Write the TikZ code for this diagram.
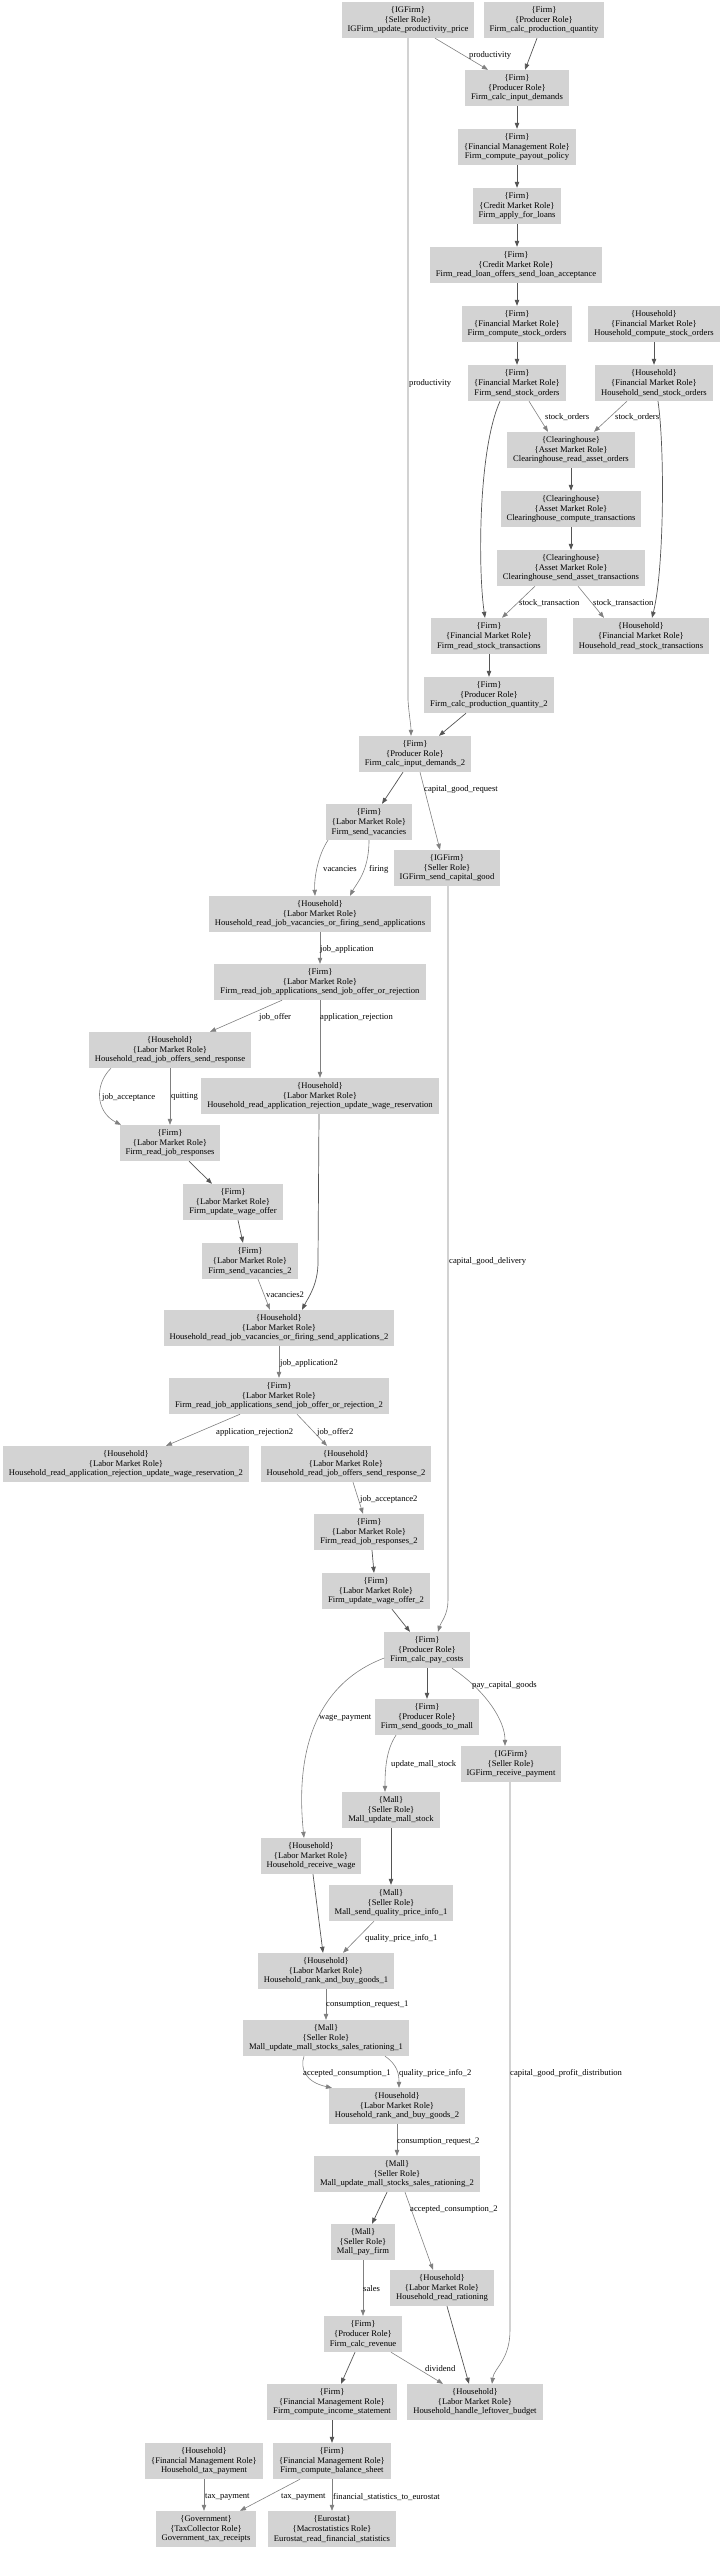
\documentclass[tikz,border=0pt]{standalone}
\usepackage{fontspec}
\setmainfont{Liberation Serif}
\usetikzlibrary{arrows.meta}
\definecolor{boxgray}{RGB}{211,211,211}
\definecolor{dkgray}{RGB}{85,85,85}
\definecolor{ltgray}{RGB}{128,128,128}
\newcommand\bx[6]{\node[box] (#1) at (#2,#3) {\{#4\}\\\{#5\}\\#6};}
\begin{document}
\begin{tikzpicture}[x=1pt,y=-1pt,
  box/.style={fill=boxgray, draw=none, align=center, font=\fontsize{8.6}{9.8}\selectfont, minimum height=36pt, inner xsep=6pt, inner ysep=0pt},
  dk/.style={draw=dkgray, line width=0.7pt, -{Triangle[length=6pt,width=4.5pt]}},
  lt/.style={draw=ltgray, line width=0.6pt, -{Triangle[length=6pt,width=4.5pt]}},
  lab/.style={anchor=west, font=\fontsize{8.6}{9.8}\selectfont, inner sep=0pt}]
\useasboundingbox (0,0) rectangle (720,2549);
\bx{n1}{408}{20}{IGFirm}{Seller Role}{IGFirm\_update\_productivity\_price}
\bx{n2}{544}{20}{Firm}{Producer Role}{Firm\_calc\_production\_quantity}
\bx{n3}{517}{88}{Firm}{Producer Role}{Firm\_calc\_input\_demands}
\bx{n4}{517}{147}{Firm}{Financial Management Role}{Firm\_compute\_payout\_policy}
\bx{n5}{517}{206}{Firm}{Credit Market Role}{Firm\_apply\_for\_loans}
\bx{n6}{516}{265}{Firm}{Credit Market Role}{Firm\_read\_loan\_offers\_send\_loan\_acceptance}
\bx{n7}{517}{324}{Firm}{Financial Market Role}{Firm\_compute\_stock\_orders}
\bx{n8}{654}{324}{Household}{Financial Market Role}{Household\_compute\_stock\_orders}
\bx{n9}{517}{383}{Firm}{Financial Market Role}{Firm\_send\_stock\_orders}
\bx{n10}{654}{383}{Household}{Financial Market Role}{Household\_send\_stock\_orders}
\bx{n11}{571}{450}{Clearinghouse}{Asset Market Role}{Clearinghouse\_read\_asset\_orders}
\bx{n12}{571}{509}{Clearinghouse}{Asset Market Role}{Clearinghouse\_compute\_transactions}
\bx{n13}{571}{568}{Clearinghouse}{Asset Market Role}{Clearinghouse\_send\_asset\_transactions}
\bx{n14}{489}{636}{Firm}{Financial Market Role}{Firm\_read\_stock\_transactions}
\bx{n15}{641}{636}{Household}{Financial Market Role}{Household\_read\_stock\_transactions}
\bx{n16}{489}{695}{Firm}{Producer Role}{Firm\_calc\_production\_quantity\_2}
\bx{n17}{415}{754}{Firm}{Producer Role}{Firm\_calc\_input\_demands\_2}
\bx{n18}{369}{822}{Firm}{Labor Market Role}{Firm\_send\_vacancies}
\bx{n19}{447}{868}{IGFirm}{Seller Role}{IGFirm\_send\_capital\_good}
\bx{n20}{320}{914}{Household}{Labor Market Role}{Household\_read\_job\_vacancies\_or\_firing\_send\_applications}
\bx{n21}{320}{982}{Firm}{Labor Market Role}{Firm\_read\_job\_applications\_send\_job\_offer\_or\_rejection}
\bx{n22}{170}{1050}{Household}{Labor Market Role}{Household\_read\_job\_offers\_send\_response}
\bx{n23}{320}{1096}{Household}{Labor Market Role}{Household\_read\_application\_rejection\_update\_wage\_reservation}
\bx{n24}{170}{1143}{Firm}{Labor Market Role}{Firm\_read\_job\_responses}
\bx{n25}{233}{1202}{Firm}{Labor Market Role}{Firm\_update\_wage\_offer}
\bx{n26}{250}{1261}{Firm}{Labor Market Role}{Firm\_send\_vacancies\_2}
\bx{n27}{279}{1328}{Household}{Labor Market Role}{Household\_read\_job\_vacancies\_or\_firing\_send\_applications\_2}
\bx{n28}{279}{1396}{Firm}{Labor Market Role}{Firm\_read\_job\_applications\_send\_job\_offer\_or\_rejection\_2}
\bx{n29}{126}{1464}{Household}{Labor Market Role}{Household\_read\_application\_rejection\_update\_wage\_reservation\_2}
\bx{n30}{346}{1464}{Household}{Labor Market Role}{Household\_read\_job\_offers\_send\_response\_2}
\bx{n31}{369}{1532}{Firm}{Labor Market Role}{Firm\_read\_job\_responses\_2}
\bx{n32}{376}{1591}{Firm}{Labor Market Role}{Firm\_update\_wage\_offer\_2}
\bx{n33}{427}{1650}{Firm}{Producer Role}{Firm\_calc\_pay\_costs}
\bx{n34}{427}{1717}{Firm}{Producer Role}{Firm\_send\_goods\_to\_mall}
\bx{n35}{511}{1764}{IGFirm}{Seller Role}{IGFirm\_receive\_payment}
\bx{n36}{391}{1810}{Mall}{Seller Role}{Mall\_update\_mall\_stock}
\bx{n37}{311}{1856}{Household}{Labor Market Role}{Household\_receive\_wage}
\bx{n38}{391}{1903}{Mall}{Seller Role}{Mall\_send\_quality\_price\_info\_1}
\bx{n39}{326}{1971}{Household}{Labor Market Role}{Household\_rank\_and\_buy\_goods\_1}
\bx{n40}{326}{2038}{Mall}{Seller Role}{Mall\_update\_mall\_stocks\_sales\_rationing\_1}
\bx{n41}{397}{2106}{Household}{Labor Market Role}{Household\_rank\_and\_buy\_goods\_2}
\bx{n42}{397}{2174}{Mall}{Seller Role}{Mall\_update\_mall\_stocks\_sales\_rationing\_2}
\bx{n43}{363}{2242}{Mall}{Seller Role}{Mall\_pay\_firm}
\bx{n44}{442}{2288}{Household}{Labor Market Role}{Household\_read\_rationing}
\bx{n45}{363}{2334}{Firm}{Producer Role}{Firm\_calc\_revenue}
\bx{n46}{332}{2402}{Firm}{Financial Management Role}{Firm\_compute\_income\_statement}
\bx{n47}{475}{2402}{Household}{Labor Market Role}{Household\_handle\_leftover\_budget}
\bx{n48}{204}{2461}{Household}{Financial Management Role}{Household\_tax\_payment}
\bx{n49}{332}{2461}{Firm}{Financial Management Role}{Firm\_compute\_balance\_sheet}
\bx{n50}{206}{2529}{Government}{TaxCollector Role}{Government\_tax\_receipts}
\bx{n51}{332}{2529}{Eurostat}{Macrostatistics Role}{Eurostat\_read\_financial\_statistics}
% edges
\draw[lt] ([xshift=27pt]n1.south) -- ([xshift=-29pt]n3.north);
\draw[dk] ([xshift=-7pt]n2.south) -- ([xshift=8pt]n3.north);
\draw[dk] (n3.south) -- (n4.north);
\draw[dk] (n4.south) -- (n5.north);
\draw[dk] (n5.south) -- ([xshift=1pt]n6.north);
\draw[dk] ([xshift=1pt]n6.south) -- (n7.north);
\draw[dk] (n7.south) -- (n9.north);
\draw[dk] (n8.south) -- (n10.north);
\draw[lt] ([xshift=12pt]n9.south) -- ([xshift=-23pt]n11.north);
\draw[lt] ([xshift=-27pt]n10.south) -- ([xshift=23pt]n11.north);
\draw[dk] ([xshift=-17pt]n9.south) .. controls (478,450) and (478,570) .. ([xshift=-4pt]n14.north);
\draw[dk] ([xshift=4pt]n10.south) .. controls (665,450) and (664,570) .. ([xshift=11pt]n15.north);
\draw[dk] (n11.south) -- (n12.north);
\draw[dk] (n12.south) -- (n13.north);
\draw[lt] ([xshift=-36pt]n13.south) -- ([xshift=13pt]n14.north);
\draw[lt] ([xshift=7pt]n13.south) -- ([xshift=-37pt]n15.north);
\draw[dk] (n14.south) -- (n16.north);
\draw[dk] ([xshift=-23pt]n16.south) -- ([xshift=24pt]n17.north);
\draw[lt] (n1.south) -- (408,700) .. controls (409,715) and (411,725) .. ([xshift=-4pt]n17.north);
\draw[dk] ([xshift=-12pt]n17.south) -- ([xshift=13pt]n18.north);
\draw[lt] ([xshift=5pt]n17.south) -- ([xshift=-7pt]n19.north);
\draw[lt] ([xshift=-41pt]n18.south) .. controls (318,855) and (314,878) .. ([xshift=-5pt]n20.north);
\draw[lt] (n18.south) .. controls (369,872) and (356,884) .. ([xshift=30pt]n20.north);
\draw[lt] (n20.south) -- (n21.north);
\draw[lt] ([xshift=-38pt]n21.south) -- ([xshift=40pt]n22.north);
\draw[lt] (n21.south) -- (n23.north);
\draw[lt] ([xshift=-59pt]n22.south) .. controls (94,1085) and (96,1112) .. ([xshift=-49pt]n24.north);
\draw[lt] (n22.south) -- (n24.north);
\draw[dk] ([xshift=19pt]n24.south) -- ([xshift=-21pt]n25.north);
\draw[dk] ([xshift=5pt]n25.south) -- ([xshift=-7pt]n26.north);
\draw[dk] ([xshift=-1pt]n23.south) -- (318,1262) .. controls (318,1285) and (308,1298) .. ([xshift=23pt]n27.north);
\draw[lt] ([xshift=8pt]n26.south) -- ([xshift=-9pt]n27.north);
\draw[lt] (n27.south) -- (n28.north);
\draw[lt] ([xshift=-39pt]n28.south) -- ([xshift=40pt]n29.north);
\draw[lt] ([xshift=18pt]n28.south) -- ([xshift=-19pt]n30.north);
\draw[lt] ([xshift=7pt]n30.south) -- ([xshift=-6pt]n31.north);
\draw[dk] ([xshift=3pt]n31.south) -- ([xshift=-2pt]n32.north);
\draw[dk] ([xshift=16pt]n32.south) -- ([xshift=-17pt]n33.north);
\draw[lt] ([xshift=1pt]n19.south) -- (448,1600) .. controls (448,1615) and (441,1622) .. ([xshift=11pt]n33.north);
\draw[dk] (n33.south) -- (n34.north);
\draw[lt] ([xshift=25pt]n33.south) .. controls (485,1690) and (505,1720) .. ([xshift=-6pt]n35.north);
\draw[lt] ([yshift=-8pt]n33.west) .. controls (300,1690) and (298,1780) .. ([xshift=-7pt]n37.north);
\draw[lt] ([xshift=-31pt]n34.south) .. controls (386,1750) and (385,1770) .. ([xshift=-6pt]n36.north);
\draw[dk] (n36.south) -- (n38.north);
\draw[dk] ([xshift=2pt]n37.south) -- ([xshift=-3pt]n39.north);
\draw[lt] ([xshift=-17pt]n38.south) -- ([xshift=17pt]n39.north);
\draw[lt] (n39.south) -- (n40.north);
\draw[lt] ([xshift=-22pt]n40.south) .. controls (300,2068) and (305,2082) .. ([xshift=-65pt]n41.north);
\draw[lt] ([xshift=59pt]n40.south) .. controls (398,2065) and (399,2075) .. ([xshift=2pt]n41.north);
\draw[lt] (n41.south) -- (n42.north);
\draw[dk] ([xshift=-10pt]n42.south) -- ([xshift=9pt]n43.north);
\draw[lt] ([xshift=8pt]n42.south) -- ([xshift=-9pt]n44.north);
\draw[lt] (n43.south) -- (n45.north);
\draw[dk] ([xshift=-8pt]n45.south) -- ([xshift=9pt]n46.north);
\draw[lt] ([xshift=28pt]n45.south) -- ([xshift=-32pt]n47.north);
\draw[dk] ([xshift=5pt]n44.south) -- ([xshift=-6pt]n47.north);
\draw[lt] ([xshift=-1pt]n35.south) -- (510,2330) .. controls (510,2360) and (494,2368) .. ([xshift=17pt]n47.north);
\draw[dk] (n46.south) -- (n49.north);
\draw[lt] (n48.south) -- ([xshift=-2pt]n50.north);
\draw[lt] ([xshift=-32pt]n49.south) -- ([xshift=34pt]n50.north);
\draw[lt] (n49.south) -- (n51.north);
% labels
\node[lab] (l1) at (469,55) {productivity};
\node[lab] (l2) at (409,383) {productivity};
\node[lab] (l3) at (545,417) {stock\_orders};
\node[lab] (l4) at (615,417) {stock\_orders};
\node[lab] (l5) at (519,603) {stock\_transaction};
\node[lab] (l6) at (593,603) {stock\_transaction};
\node[lab] (l7) at (424,789) {capital\_good\_request};
\node[lab] (l8) at (323,869) {vacancies};
\node[lab] (l9) at (369,869) {firing};
\node[lab] (l10) at (320,949) {job\_application};
\node[lab] (l11) at (259,1017) {job\_offer};
\node[lab] (l12) at (320,1017) {application\_rejection};
\node[lab] (l13) at (102,1097) {job\_acceptance};
\node[lab] (l14) at (171,1097) {quitting};
\node[lab] (l15) at (449,1261) {capital\_good\_delivery};
\node[lab] (l16) at (266,1295) {vacancies2};
\node[lab] (l17) at (280,1363) {job\_application2};
\node[lab] (l18) at (216,1432) {application\_rejection2};
\node[lab] (l19) at (317,1432) {job\_offer2};
\node[lab] (l20) at (360,1499) {job\_acceptance2};
\node[lab] (l21) at (472,1685) {pay\_capital\_goods};
\node[lab] (l22) at (319,1718) {wage\_payment};
\node[lab] (l23) at (391,1764) {update\_mall\_stock};
\node[lab] (l24) at (365,1938) {quality\_price\_info\_1};
\node[lab] (l25) at (326,2005) {consumption\_request\_1};
\node[lab] (l26) at (303,2073) {accepted\_consumption\_1};
\node[lab] (l27) at (399,2073) {quality\_price\_info\_2};
\node[lab] (l28) at (510,2073) {capital\_good\_profit\_distribution};
\node[lab] (l29) at (397,2142) {consumption\_request\_2};
\node[lab] (l30) at (410,2209) {accepted\_consumption\_2};
\node[lab] (l31) at (363,2289) {sales};
\node[lab] (l32) at (425,2369) {dividend};
\node[lab] (l33) at (205,2497) {tax\_payment};
\node[lab] (l34) at (281,2497) {tax\_payment};
\node[lab] (l35) at (333,2497) {financial\_statistics\_to\_eurostat};
\end{tikzpicture}
\end{document}
